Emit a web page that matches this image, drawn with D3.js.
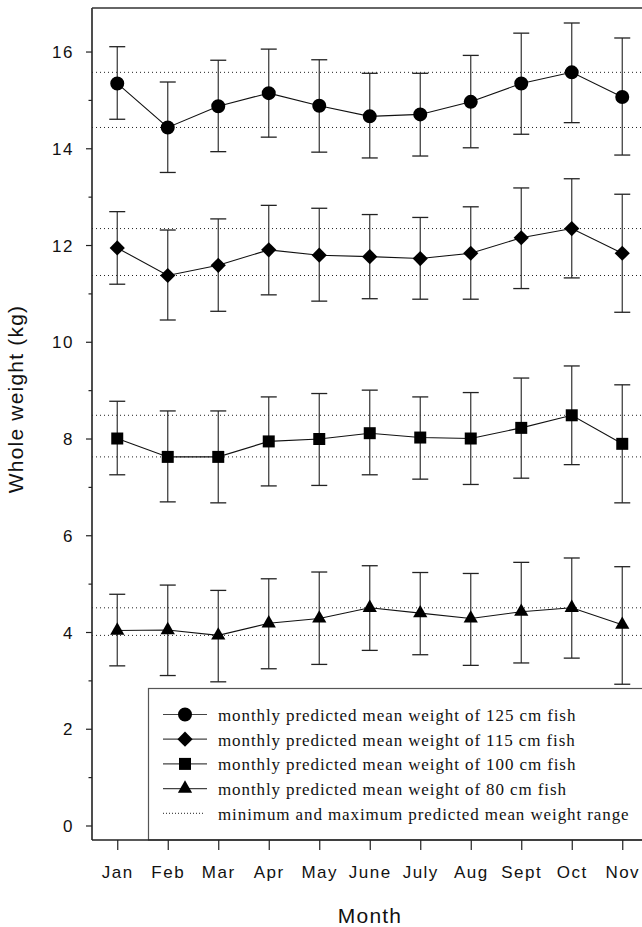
<!DOCTYPE html>
<html>
<head>
<meta charset="utf-8">
<script src="https://cdn.jsdelivr.net/npm/d3@7"></script>
<style>
  body { margin: 0; background: #fff; }
  svg { display: block; }
  .tick text { font-family: "Liberation Sans", Arial, sans-serif; font-size: 17px; letter-spacing: 1.5px; fill: #111; }
  .axis-title { font-family: "Liberation Sans", Arial, sans-serif; font-size: 21px; letter-spacing: 1.2px; fill: #111; }
  .legend-text { font-family: "Liberation Serif", "Times New Roman", serif; font-size: 17px; letter-spacing: 0.9px; fill: #111; }
</style>
</head>
<body>
<div id="chart"></div>
<script>
// months on the x axis
var months = ["Jan", "Feb", "Mar", "Apr", "May", "June", "July", "Aug", "Sept", "Oct", "Nov"];

// 125 cm fish: mean, upper and lower error bar
var w125 = [15.34, 14.43, 14.87, 15.14, 14.88, 14.66, 14.70, 14.96, 15.34, 15.57, 15.06];
var w125Hi = [16.10, 15.37, 15.82, 16.05, 15.83, 15.55, 15.55, 15.92, 16.38, 16.59, 16.28];
var w125Lo = [14.60, 13.50, 13.93, 14.23, 13.92, 13.80, 13.84, 14.01, 14.29, 14.53, 13.86];

// 115 cm fish
var w115 = [11.94, 11.37, 11.58, 11.90, 11.79, 11.76, 11.72, 11.83, 12.15, 12.34, 11.83];
var w115Hi = [12.69, 12.31, 12.54, 12.82, 12.76, 12.63, 12.57, 12.79, 13.18, 13.37, 13.05];
var w115Lo = [11.19, 10.45, 10.63, 10.97, 10.84, 10.89, 10.88, 10.88, 11.10, 11.32, 10.61];

// 100 cm fish
var w100 = [8.00, 7.62, 7.62, 7.94, 7.99, 8.11, 8.02, 8.00, 8.22, 8.48, 7.89];
var w100Hi = [8.77, 8.57, 8.57, 8.86, 8.93, 9.00, 8.86, 8.95, 9.25, 9.50, 9.11];
var w100Lo = [7.25, 6.69, 6.67, 7.02, 7.03, 7.25, 7.16, 7.05, 7.18, 7.46, 6.67];

// 80 cm fish
var w80 = [4.03, 4.04, 3.93, 4.18, 4.28, 4.50, 4.39, 4.28, 4.42, 4.50, 4.15];
var w80Hi = [4.78, 4.97, 4.86, 5.10, 5.24, 5.37, 5.23, 5.21, 5.44, 5.53, 5.35];
var w80Lo = [3.30, 3.10, 2.97, 3.24, 3.33, 3.62, 3.53, 3.31, 3.36, 3.46, 2.92];

var yTicks = [0, 2, 4, 6, 8, 10, 12, 14, 16];
var yMinorTicks = [1, 3, 5, 7, 9, 11, 13, 15];

var legendLabels = [
    "monthly predicted mean weight of 125 cm fish",
    "monthly predicted mean weight of 115 cm fish",
    "monthly predicted mean weight of 100 cm fish",
    "monthly predicted mean weight of 80 cm fish",
    "minimum and maximum predicted mean weight range"
];

var series = [
    { mean: w125, hi: w125Hi, lo: w125Lo, symbol: "circle" },
    { mean: w115, hi: w115Hi, lo: w115Lo, symbol: "diamond" },
    { mean: w100, hi: w100Hi, lo: w100Lo, symbol: "square" },
    { mean: w80, hi: w80Hi, lo: w80Lo, symbol: "triangle" }
];

var W = 642, H = 927;
var plot = { left: 92, top: 8, right: 698, bottom: 840 };

var svg = d3.select("#chart").append("svg")
    .attr("width", W)
    .attr("height", H);

var x = d3.scalePoint()
    .domain(months)
    .range([plot.left + 25.25, plot.right - 75.75]);

var y = d3.scaleLinear()
    .domain([-0.3, 16.9])
    .range([plot.bottom, plot.top]);

// marker shapes
var symbolPath = function(name) {
    if (name == "circle") return d3.symbol(d3.symbolCircle, 154)();
    if (name == "square") return d3.symbol(d3.symbolSquare, 144)();
    if (name == "triangle") return d3.symbol(d3.symbolTriangle, 88)();
    // diamond: a square turned 45 degrees
    var r = 7.6;
    return "M0," + (-r) + "L" + r + ",0L0," + r + "L" + (-r) + ",0Z";
};

// dotted min/max lines of every series
series.forEach(function(s) {
    var ext = d3.extent(s.mean);
    svg.selectAll(null)
        .data(ext)
        .enter().append("line")
        .attr("x1", plot.left)
        .attr("x2", W)
        .attr("y1", function(d) { return y(d); })
        .attr("y2", function(d) { return y(d); })
        .attr("stroke", "#222")
        .attr("stroke-width", 1)
        .attr("stroke-dasharray", "1,3");
});

// error bars, connecting lines, markers
series.forEach(function(s) {
    var g = svg.append("g");
    var idx = d3.range(months.length);

    var bars = g.selectAll(".bar")
        .data(idx)
        .enter().append("g")
        .attr("class", "bar");
    bars.append("line")
        .attr("x1", function(i) { return x(months[i]); })
        .attr("x2", function(i) { return x(months[i]); })
        .attr("y1", function(i) { return y(s.hi[i]); })
        .attr("y2", function(i) { return y(s.lo[i]); })
        .attr("stroke", "#333")
        .attr("stroke-width", 1.2);
    bars.selectAll(".cap")
        .data(function(i) { return [s.hi[i], s.lo[i]].map(function(v) { return { i: i, v: v }; }); })
        .enter().append("line")
        .attr("class", "cap")
        .attr("x1", function(d) { return x(months[d.i]) - 8; })
        .attr("x2", function(d) { return x(months[d.i]) + 8; })
        .attr("y1", function(d) { return y(d.v); })
        .attr("y2", function(d) { return y(d.v); })
        .attr("stroke", "#222")
        .attr("stroke-width", 1.3);

    var line = d3.line()
        .x(function(i) { return x(months[i]); })
        .y(function(i) { return y(s.mean[i]); });
    g.append("path")
        .datum(idx)
        .attr("d", line)
        .attr("fill", "none")
        .attr("stroke", "#111")
        .attr("stroke-width", 1.1);

    g.selectAll(".marker")
        .data(idx)
        .enter().append("path")
        .attr("class", "marker")
        .attr("transform", function(i) { return "translate(" + x(months[i]) + "," + y(s.mean[i]) + ")"; })
        .attr("d", symbolPath(s.symbol))
        .attr("fill", "#000");
});

// legend box
var legend = svg.append("g").attr("class", "legend");
legend.append("rect")
    .attr("x", 148.5)
    .attr("y", 688.5)
    .attr("width", 600)
    .attr("height", plot.bottom - 688.5)
    .attr("fill", "#fff")
    .attr("stroke", "#555")
    .attr("stroke-width", 1.2);

var li = legend.selectAll(".legend-item")
    .data(legendLabels)
    .enter().append("g")
    .attr("class", "legend-item")
    .attr("transform", function(d, i) { return "translate(0," + (721 + i * 24.7) + ")"; });

li.append("line")
    .attr("x1", 163)
    .attr("x2", function(d, i) { return i < 4 ? 207 : 204; })
    .attr("y1", -6.5)
    .attr("y2", -6.5)
    .attr("stroke", function(d, i) { return i < 4 ? "#444" : "#222"; })
    .attr("stroke-width", function(d, i) { return i < 4 ? 1.2 : 1; })
    .attr("stroke-dasharray", function(d, i) { return i < 4 ? null : "1,2"; });

li.filter(function(d, i) { return i < 4; })
    .append("path")
    .attr("transform", "translate(185,-6.5)")
    .attr("d", function(d, i) { return symbolPath(series[i].symbol); })
    .attr("fill", "#000");

li.append("text")
    .attr("class", "legend-text")
    .attr("x", 218)
    .attr("y", 0)
    .text(function(d) { return d; });

// axes
var yAxis = d3.axisLeft(y)
    .tickValues(yTicks)
    .tickSize(6)
    .tickPadding(12)
    .tickFormat(d3.format("d"));
var ya = svg.append("g")
    .attr("transform", "translate(" + plot.left + ",0)")
    .call(yAxis);
ya.select(".domain").remove();
ya.selectAll(".tick line").attr("stroke", "#222").attr("stroke-width", 1.2);
ya.selectAll(".tick text").attr("dy", "0.36em");

var yMinor = d3.axisLeft(y)
    .tickValues(yMinorTicks)
    .tickSize(3.5)
    .tickFormat("");
var ym = svg.append("g")
    .attr("transform", "translate(" + plot.left + ",0)")
    .call(yMinor);
ym.select(".domain").remove();
ym.selectAll(".tick line").attr("stroke", "#222").attr("stroke-width", 1.2);

var xAxis = d3.axisBottom(x)
    .tickSize(10)
    .tickPadding(16);
var xa = svg.append("g")
    .attr("transform", "translate(0," + plot.bottom + ")")
    .call(xAxis);
xa.select(".domain").remove();
xa.selectAll(".tick line").attr("stroke", "#222").attr("stroke-width", 1.2);
xa.selectAll(".tick text").attr("dy", "0").attr("y", 38);

// frame lines
svg.append("line")
    .attr("x1", plot.left).attr("x2", plot.left)
    .attr("y1", plot.top).attr("y2", plot.bottom)
    .attr("stroke", "#222").attr("stroke-width", 1.6);
svg.append("line")
    .attr("x1", plot.left).attr("x2", W)
    .attr("y1", plot.top).attr("y2", plot.top)
    .attr("stroke", "#333").attr("stroke-width", 1.6);
svg.append("line")
    .attr("x1", plot.left).attr("x2", W)
    .attr("y1", plot.bottom).attr("y2", plot.bottom)
    .attr("stroke", "#222").attr("stroke-width", 1.6);

// axis titles
svg.append("text")
    .attr("class", "axis-title")
    .attr("text-anchor", "middle")
    .attr("transform", "translate(23,399) rotate(-90)")
    .text("Whole weight (kg)");

svg.append("text")
    .attr("class", "axis-title")
    .attr("text-anchor", "middle")
    .attr("x", 370)
    .attr("y", 923)
    .text("Month");
</script>
</body>
</html>
